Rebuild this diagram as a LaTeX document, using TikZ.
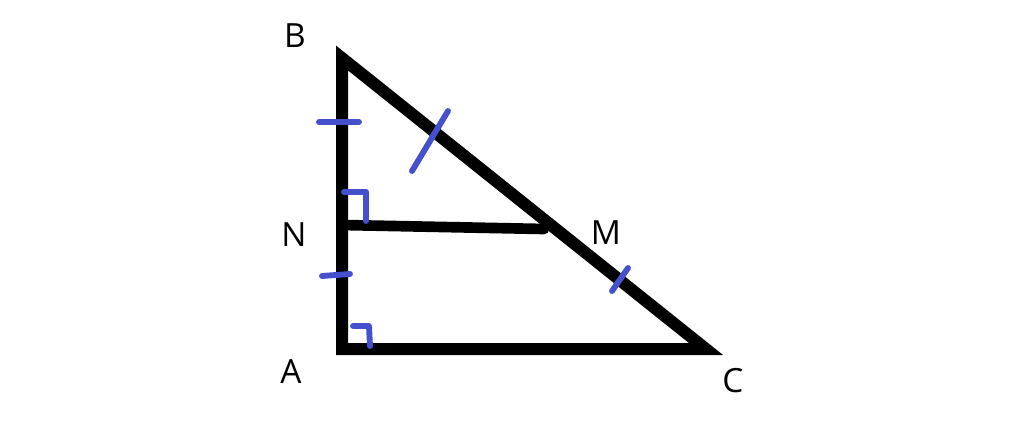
\documentclass[tikz,border=0pt]{standalone}
\usepackage{fontspec}
\setmainfont{Open Sans}
\usetikzlibrary{calc,positioning}
\definecolor{markblue}{RGB}{68,80,204}

\begin{document}
\begin{tikzpicture}[
        x=0.75pt, y=-0.75pt,
        font=\fontsize{25}{30}\selectfont,
        side/.style={line width=9pt, draw=black, line join=miter},
        midline/.style={line width=8pt, draw=black, line cap=round},
        tick/.style={line width=4.4pt, draw=markblue, line cap=round},
        rightmark/.style={line width=4.4pt, draw=markblue, line cap=round, line join=round},
        vertex/.style={inner sep=0pt},
    ]
    \useasboundingbox (0,0) rectangle (1024,428);

    % Points
    \coordinate (A) at (342,349);
    \coordinate (B) at (342,58);
    \coordinate (C) at (706,349);
    \coordinate (N) at (342,225);
    \coordinate (M) at (544,229);

    % Labels
    \node[vertex] (lB) at (295,36) {B};
    \node[vertex] (lN) at (294,235) {N};
    \node[vertex] (lM) at (606,233) {M};
    \node[vertex] (lA) at (291,372) {A};
    \node[vertex] (lC) at (733,381) {C};

    % Triangle and segment
    \draw[side] (B) -- (A) -- (C) -- cycle;
    \draw[midline] (N) -- (M);

    % Equal ticks
    \draw[tick] (319,122) -- (359,122);
    \draw[tick] (322,276) -- (350,274);
    \draw[tick] (412,171) -- (448,111);
    \draw[tick] (612,291) -- (628,268);

    % Right angles
    \draw[rightmark] (344,192) -- (366,192) -- (366,221);
    \draw[rightmark] (353,326) -- (369,326) -- (370,346);

\end{tikzpicture}
\end{document}
